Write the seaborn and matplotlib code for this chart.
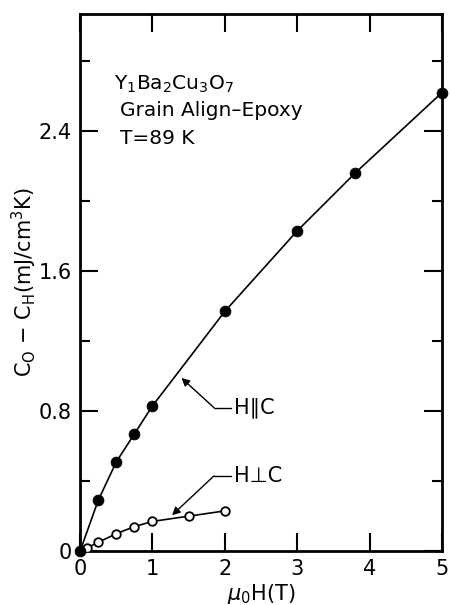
import matplotlib
matplotlib.use("Agg")
import matplotlib.pyplot as plt
import seaborn as sns
import pandas as pd
from matplotlib.ticker import MultipleLocator

# Data
h_par_x = [0.0, 0.25, 0.5, 0.75, 1.0, 2.0, 3.0, 3.8, 5.0]
h_par_y = [0.0, 0.29, 0.51, 0.67, 0.83, 1.37, 1.83, 2.16, 2.62]
h_perp_x = [0.0, 0.1, 0.25, 0.5, 0.75, 1.0, 1.5, 2.0]
h_perp_y = [0.0, 0.02, 0.05, 0.10, 0.14, 0.17, 0.20, 0.23]
x_ticks = [0, 1, 2, 3, 4, 5]
y_ticks = [0, 0.8, 1.6, 2.4]
y_tick_labels = ["0", "0.8", "1.6", "2.4"]

sns.set_style("ticks")
plt.rcParams['font.family'] = ['DejaVu Sans']
plt.rcParams.update({"text.color": "black", "axes.labelcolor": "black",
                     "xtick.color": "black", "ytick.color": "black"})

df_par = pd.DataFrame({"x": h_par_x, "y": h_par_y})
df_perp = pd.DataFrame({"x": h_perp_x, "y": h_perp_y})

fig = plt.figure(figsize=(4.5, 6.05), dpi=100)
ax = fig.add_axes([0.178, 0.089, 0.804, 0.888])

sns.lineplot(data=df_par, x="x", y="y", ax=ax, color="black", lw=1.2, sort=True)
sns.lineplot(data=df_perp, x="x", y="y", ax=ax, color="black", lw=1.2, sort=True)
sns.scatterplot(data=df_perp.iloc[1:], x="x", y="y", ax=ax, marker="o", s=38,
                facecolor="white", edgecolor="black", linewidth=1.3, zorder=5)
sns.scatterplot(data=df_par, x="x", y="y", ax=ax, marker="o", s=60,
                color="black", edgecolor="black", zorder=6, clip_on=False)

ax.set_xlim(0, 5)
ax.set_ylim(0, 3.07)
ax.set_xticks(x_ticks)
ax.set_xticklabels([str(t) for t in x_ticks])
ax.set_yticks(y_ticks)
ax.set_yticklabels(y_tick_labels)
ax.yaxis.set_minor_locator(MultipleLocator(0.4))

for s in ax.spines.values():
    s.set_linewidth(2)
    s.set_color("black")

ax.tick_params(axis="both", which="major", direction="in", length=13, width=1.5,
               labelsize=15, top=True, right=True, pad=6)
ax.tick_params(axis="y", which="minor", direction="in", length=7, width=1.5,
               left=True, right=True)

ax.set_xlabel(r"$\mu_0$H(T)", fontsize=15, labelpad=2)
ax.set_ylabel(r"C$_\mathrm{O}$ $-$ C$_\mathrm{H}$(mJ/cm$^3$K)", fontsize=15, labelpad=0)

ax.text(0.47, 2.67, r"Y$_1$Ba$_2$Cu$_3$O$_7$", fontsize=14.5, va="center")
ax.text(0.55, 2.52, "Grain Align\u2013Epoxy", fontsize=14.5, va="center")
ax.text(0.55, 2.36, "T=89 K", fontsize=14.5, va="center")

# Leader lines and labels
ax.plot([1.85, 2.08], [0.82, 0.82], color="black", lw=1.0)
ax.annotate("", xy=(1.40, 0.99), xytext=(1.85, 0.82),
            arrowprops=dict(arrowstyle="-|>", color="black", lw=1.0,
                            shrinkA=0, shrinkB=0, mutation_scale=12))
ax.text(2.12, 0.82, "H\u2225C", fontsize=15, va="center", ha="left")

ax.plot([1.85, 2.08], [0.43, 0.43], color="black", lw=1.0)
ax.annotate("", xy=(1.27, 0.205), xytext=(1.85, 0.43),
            arrowprops=dict(arrowstyle="-|>", color="black", lw=1.0,
                            shrinkA=0, shrinkB=0, mutation_scale=12))
ax.text(2.12, 0.43, "H\u22a5C", fontsize=15, va="center", ha="left")

fig.savefig("out.png", dpi=100)
